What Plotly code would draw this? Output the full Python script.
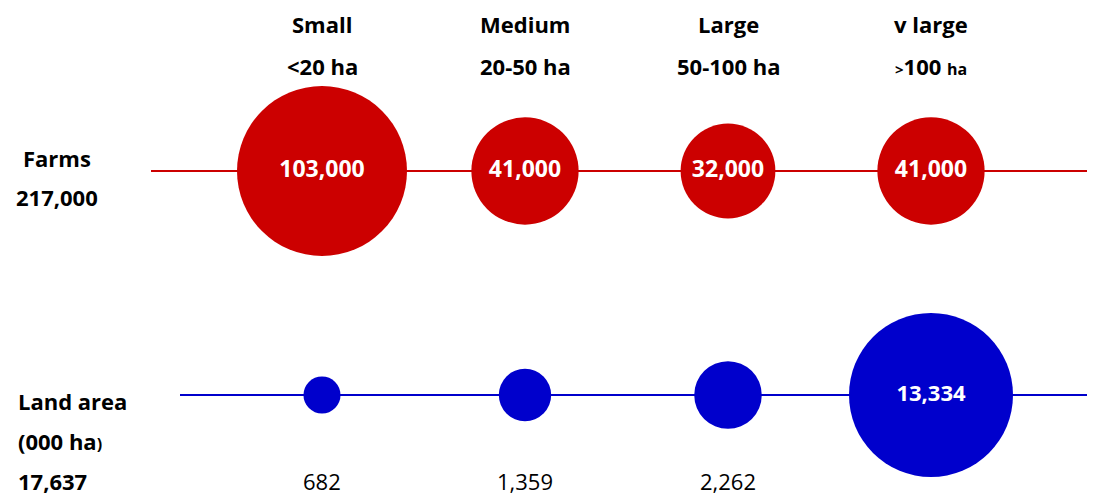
import plotly.graph_objects as go

# ---- data ----
categories = ["Small", "Medium", "Large", "v large"]
size_ranges = ["<20 ha", "20-50 ha", "50-100 ha", ">100 ha"]
farms = [103000, 41000, 32000, 41000]
farms_total = 217000
land = [682, 1359, 2262, 13334]
land_total = 17637
rows = ["Farms", "Land area"]

# ---- style ----
RED = "#CC0000"
BLUE = "#0000CC"
FONT = "Open Sans"
FS = 22
W, H = 1095, 498
OFF = 8            # page body margin
FW, FH = W - OFF, H - OFF
RED_MAX_D = 170
BLUE_MAX_D = 164


def px_x(p):
    return (p - OFF) / FW


def px_y(p):
    return 1 - (p - OFF) / FH


def fmt(v):
    return f"{v:,}"


def header2(label):
    # ">100 ha" style: the comparison sign and unit drawn smaller
    if label.startswith(">"):
        num = label[1:].replace(" ha", "")
        return (f"<b><span style='font-size:15px'>></span>{num} "
                f"<span style='font-size:16px'>ha</span></b>")
    return f"<b>{label}</b>"


fig = go.Figure()

red_ref = 2.0 * max(farms) / RED_MAX_D ** 2
blue_ref = 2.0 * max(land) / BLUE_MAX_D ** 2

# row lines
for row, col, x0 in [(rows[0], RED, px_x(151)), (rows[1], BLUE, px_x(180))]:
    fig.add_shape(type="line", xref="paper", yref="y", x0=x0, x1=1,
                  y0=row, y1=row, line=dict(color=col, width=2), layer="below")

fig.add_trace(go.Scatter(
    x=categories, y=[rows[0]] * len(farms), mode="markers+text",
    marker=dict(size=farms, sizemode="area", sizeref=red_ref, color=RED,
                line=dict(width=0), opacity=1),
    text=[f"<b>{fmt(v)}</b>" for v in farms], textposition="middle center",
    textfont=dict(family=FONT, size=FS + 1, color="white"),
    hoverinfo="skip", showlegend=False, cliponaxis=False))

blue_d = [(v / max(land)) ** 0.5 * BLUE_MAX_D for v in land]
inside = [f"<b>{fmt(v)}</b>" if d > 100 else "" for v, d in zip(land, blue_d)]
fig.add_trace(go.Scatter(
    x=categories, y=[rows[1]] * len(land), mode="markers+text",
    marker=dict(size=land, sizemode="area", sizeref=blue_ref, color=BLUE,
                line=dict(width=0), opacity=1),
    text=inside, textposition="middle center",
    textfont=dict(family=FONT, size=FS, color="white"),
    hoverinfo="skip", showlegend=False, cliponaxis=False))

base = dict(showarrow=False, yanchor="middle",
            font=dict(family=FONT, size=FS, color="black"))

ann = []
for c, r in zip(categories, size_ranges):
    ann.append(dict(base, x=c, xref="x", y=px_y(24), yref="paper",
                    text=f"<b>{c}</b>", xanchor="center"))
    ann.append(dict(base, x=c, xref="x", y=px_y(66), yref="paper",
                    text=header2(r), xanchor="center"))

for c, v, d in zip(categories, land, blue_d):
    if d <= 100:
        ann.append(dict(base, x=c, xref="x", y=px_y(481), yref="paper",
                        text=fmt(v), xanchor="center"))

side = [
    dict(x=px_x(57), y=px_y(158), text=f"<b>{rows[0]}</b>", xanchor="center"),
    dict(x=px_x(57), y=px_y(197), text=f"<b>{fmt(farms_total)}</b>", xanchor="center"),
    dict(x=px_x(16), y=px_y(401), text=f"<b>{rows[1]}</b>", xanchor="left"),
    dict(x=px_x(16), y=px_y(441),
         text="<b>(000 ha<span style='font-size:16px'>)</span></b>", xanchor="left"),
    dict(x=px_x(16), y=px_y(481), text=f"<b>{fmt(land_total)}</b>", xanchor="left"),
]
for a in side:
    ann.append(dict(base, xref="paper", yref="paper", **a))

# category 0 at x=322 px, 203 px per category; row 0 at y=171 px, 224 px per row
xa = -(322 - OFF) / 203
ya = -(171 - OFF) / 224
fig.update_layout(
    width=FW, height=FH, margin=dict(l=0, r=0, t=0, b=0),
    paper_bgcolor="white", plot_bgcolor="white",
    xaxis=dict(type="category", range=[xa, xa + FW / 203], visible=False, fixedrange=True),
    yaxis=dict(type="category", range=[ya + FH / 224, ya], visible=False, fixedrange=True),
    annotations=ann,
    font=dict(family=FONT),
)

fig.write_html("out.html")
